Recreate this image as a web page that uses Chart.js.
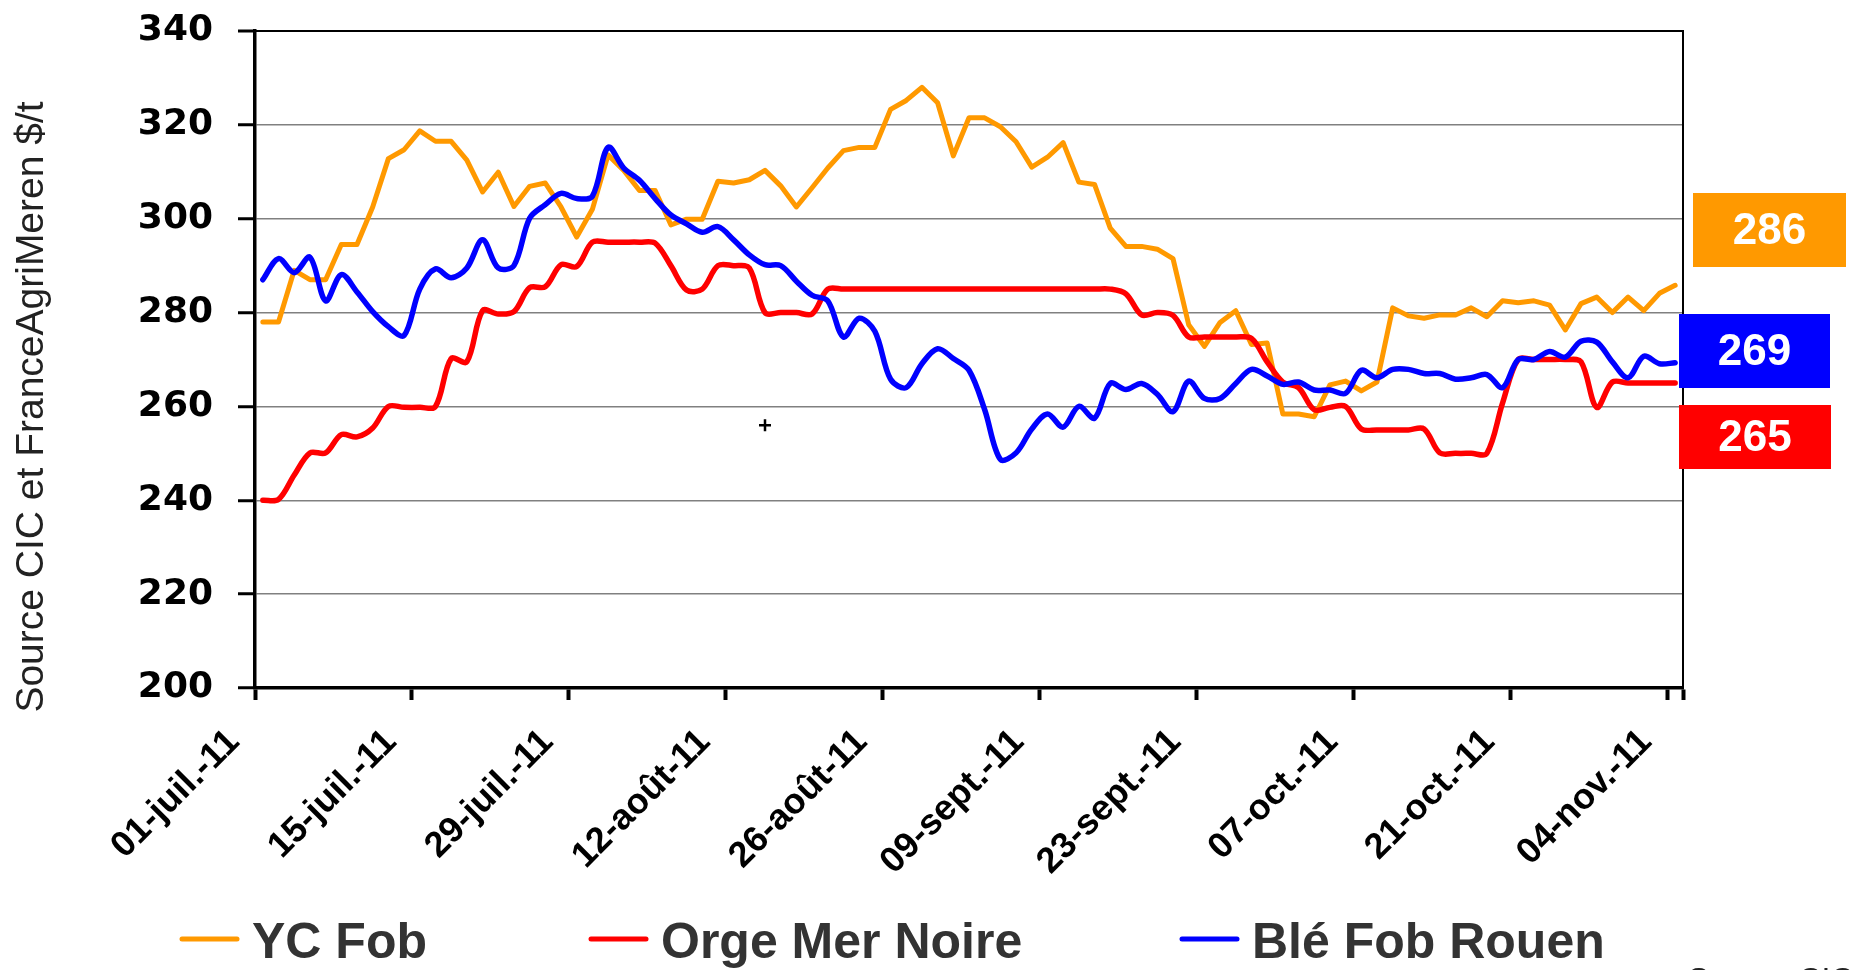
<!DOCTYPE html>
<html lang="fr">
<head>
<meta charset="utf-8">
<title>Prix YC Fob / Orge Mer Noire / Blé Fob Rouen</title>
<script src="https://cdn.jsdelivr.net/npm/chart.js@4.4.1/dist/chart.umd.min.js"></script>
<style>
    html, body { margin: 0; padding: 0; background: #ffffff; }
    #wrap { width: 1854px; height: 970px; position: relative; }
</style>
</head>
<body>
<div id="wrap"><canvas id="prixChart" width="1854" height="970"></canvas></div>
<script>
// étiquettes visibles de l'axe des dates (une toutes les 10 séances)
const tickLabels = ['01-juil.-11', '15-juil.-11', '29-juil.-11', '12-août-11', '26-août-11',
    '09-sept.-11', '23-sept.-11', '07-oct.-11', '21-oct.-11', '04-nov.-11'];
const nbSeances = 91;

// séries en $/t (jours ouvrés du 01-juil au 04-nov)
const ycFob = [
    278, 278, 289, 287, 287, 294.5, 294.5, 302.5, 312.8, 314.7,
    318.7, 316.5, 316.5, 312.5, 305.7, 309.9, 302.6, 306.9, 307.6, 302.5,
    296.1, 302, 313.6, 310.3, 306, 306, 298.7, 299.9, 299.9, 308,
    307.6, 308.3, 310.3, 307, 302.5, 306.6, 310.8, 314.5, 315.2, 315.2,
    323.3, 325.2, 328, 324.7, 313.4, 321.5, 321.5, 319.6, 316.4, 311,
    313.1, 316.2, 307.8, 307.3, 298, 294.1, 294.1, 293.5, 291.5, 277.4,
    272.8, 277.9, 280.4, 273.2, 273.5, 258.4, 258.4, 257.8, 264.6, 265.4,
    263.3, 265.2, 281, 279.3, 278.8, 279.5, 279.5, 281, 279.1, 282.5,
    282.1, 282.5, 281.6, 276.3, 281.9, 283.3, 280, 283.3, 280.4, 284.1,
    285.8
];
const orgeMerNoire = [
    240, 240.2, 245.4, 250.1, 250.1, 254, 253.5, 255.4, 260, 259.8,
    259.8, 260, 270.2, 269.5, 280.4, 279.7, 280.2, 285.3, 285.5, 290.2,
    289.8, 295, 295, 295, 295, 294.8, 290, 284.8, 285, 290,
    290, 289.5, 280, 280, 280, 279.7, 285, 285, 285, 285,
    285, 285, 285, 285, 285, 285, 285, 285, 285, 285,
    285, 285, 285, 285, 285, 284, 279.5, 280, 279.4, 274.8,
    274.8, 274.8, 274.8, 274.5, 269.5, 265.2, 264, 259.3, 259.8, 260,
    255.2, 255, 255, 255, 255.2, 250.1, 250, 250, 250, 260.7,
    270, 270, 270, 270, 269.5, 259.8, 265.2, 265, 265, 265,
    265
];
const bleFobRouen = [
    287, 291.5, 288.5, 291.8, 282.5, 288.1, 284.4, 280.2, 277, 275.1,
    285, 289.3, 287.4, 289.5, 295.5, 289.5, 290, 300.1, 303, 305.4,
    304.3, 304.8, 315.2, 310.8, 308.2, 304.3, 300.8, 298.9, 297.1, 298.3,
    295.5, 292.3, 290.2, 290, 286.7, 283.7, 282.5, 274.8, 278.8, 276,
    265.8, 264, 269.1, 272.3, 270.2, 267.7, 259.3, 248.7, 250.1, 255.2,
    258.4, 255.6, 260, 257.5, 264.9, 263.6, 264.9, 262.6, 258.9, 265.4,
    261.7, 261.7, 264.9, 267.9, 266.5, 264.7, 265.2, 263.5, 263.5, 262.8,
    267.7, 266.1, 267.9, 267.9, 267, 267, 265.8, 266.1, 266.8, 264,
    270, 270, 271.7, 270.5, 273.9, 273.7, 269.5, 266.1, 270.7, 269.1,
    269.3
];

const seriesNames = ['YC Fob', 'Orge Mer Noire', 'Blé Fob Rouen'];
const seriesColors = ['#FF9900', '#FF0000', '#0000FF'];

// catégories : une par séance, libellé seulement toutes les 10
const categories = [];
for (let i = 0; i < nbSeances; i++) {
    categories.push(i % 10 === 0 ? tickLabels[i / 10] : '');
}

// cadre, titre d'axe, légende et étiquettes de dernière valeur
const decorPlugin = {
    id: 'decor',
    beforeDatasetsDraw(chart) {
        const { ctx, chartArea: a } = chart;
        ctx.save();
        ctx.strokeStyle = '#000';
        ctx.lineWidth = 2;
        ctx.beginPath();
        ctx.moveTo(a.left, a.top);
        ctx.lineTo(a.right, a.top);
        ctx.lineTo(a.right, a.bottom);
        ctx.stroke();
        ctx.restore();
    },
    afterDraw(chart) {
        const ctx = chart.ctx;
        ctx.save();

        // titre vertical
        ctx.translate(32, 407);
        ctx.rotate(-Math.PI / 2);
        ctx.fillStyle = '#222';
        ctx.font = '39px "Liberation Sans", Arial, sans-serif';
        ctx.textAlign = 'center';
        ctx.textBaseline = 'middle';
        ctx.fillText('Source CIC et FranceAgriMeren $/t', 0, 0);
        ctx.setTransform(1, 0, 0, 1, 0, 0);

        // légende
        const legendX = [180, 589, 1180];
        ctx.font = 'bold 50px "Liberation Sans", Arial, sans-serif';
        ctx.textAlign = 'left';
        ctx.textBaseline = 'alphabetic';
        seriesNames.forEach((name, i) => {
            ctx.strokeStyle = seriesColors[i];
            ctx.lineWidth = 5;
            ctx.lineCap = 'round';
            ctx.beginPath();
            ctx.moveTo(legendX[i] + 2, 939);
            ctx.lineTo(legendX[i] + 57, 939);
            ctx.stroke();
            ctx.fillStyle = '#333';
            ctx.fillText(name, legendX[i] + 72, 958);
        });

        // étiquettes des dernières valeurs
        const badges = [[1693, 193, 153, 74], [1679, 405, 152, 64], [1679, 314, 151, 74]];
        const series = [ycFob, orgeMerNoire, bleFobRouen];
        ctx.font = 'bold 44px "Liberation Sans", Arial, sans-serif';
        ctx.textAlign = 'center';
        ctx.textBaseline = 'middle';
        badges.forEach((b, i) => {
            ctx.fillStyle = seriesColors[i];
            ctx.fillRect(b[0], b[1], b[2], b[3]);
            ctx.fillStyle = '#fff';
            const last = series[i][series[i].length - 1];
            ctx.fillText(String(Math.round(last)), b[0] + b[2] / 2, b[1] + b[3] / 2 + 2);
        });

        // petite croix parasite du graphique d'origine
        const px = chart.scales.x.getPixelForValue(32);
        const py = chart.scales.y.getPixelForValue(256);
        ctx.strokeStyle = '#000';
        ctx.lineWidth = 2.5;
        ctx.lineCap = 'butt';
        ctx.beginPath();
        ctx.moveTo(px - 6, py); ctx.lineTo(px + 6, py);
        ctx.moveTo(px, py - 6); ctx.lineTo(px, py + 6);
        ctx.stroke();

        // source coupée en bas à droite
        ctx.fillStyle = '#222';
        ctx.font = '32px "Liberation Sans", Arial, sans-serif';
        ctx.textAlign = 'left';
        ctx.textBaseline = 'alphabetic';
        ctx.fillText('Source CIC', 1688, 990);
        ctx.restore();
    }
};

window.initPrixChart = function() {
    const el = document.getElementById('prixChart');
    if (!el) {
        console.error("canvas prixChart introuvable");
        return;
    }
    const series = [ycFob, orgeMerNoire, bleFobRouen];
    const datasets = series.map((data, i) => ({
        label: seriesNames[i],
        data: data,
        borderColor: seriesColors[i],
        backgroundColor: seriesColors[i],
        borderWidth: i === 0 ? 5 : 5.5,
        tension: i === 0 ? 0 : 0.33,
        pointRadius: 0,
        borderCapStyle: 'round',
        borderJoinStyle: 'round',
        fill: false,
        order: 3 - i
    }));

    try {
        new Chart(el.getContext('2d'), {
            type: 'line',
            data: { labels: categories, datasets: datasets },
            options: {
                responsive: false,
                animation: false,
                layout: { padding: { top: 31, right: 171, bottom: 82, left: 0 } },
                plugins: {
                    legend: { display: false },
                    tooltip: { enabled: false },
                    title: { display: false }
                },
                scales: {
                    x: {
                        type: 'category',
                        offset: true,
                        afterFit: (scale) => { scale.height = 200; },
                        border: { display: true, color: '#000', width: 3.5 },
                        grid: {
                            offset: true,
                            drawOnChartArea: false,
                            tickLength: 12,
                            tickWidth: 4,
                            tickColor: (c) => (c.index === undefined || c.index % 10 === 0) ? '#000' : 'rgba(0,0,0,0)'
                        },
                        ticks: {
                            autoSkip: false,
                            maxRotation: 45,
                            minRotation: 45,
                            padding: 21,
                            labelOffset: -29,
                            color: '#000',
                            font: { family: '"Liberation Sans", Arial, sans-serif', size: 36, weight: 'bold' }
                        }
                    },
                    y: {
                        min: 200,
                        max: 340,
                        afterFit: (scale) => { scale.width = 255; },
                        border: { display: true, color: '#000', width: 3.5 },
                        grid: {
                            color: (c) => c.tick && c.tick.value === 340 ? '#000' : '#808080',
                            lineWidth: (c) => c.tick && c.tick.value === 340 ? 2 : 1.5,
                            tickColor: '#000',
                            tickWidth: 3,
                            tickLength: 17
                        },
                        ticks: {
                            stepSize: 20,
                            padding: 25,
                            color: '#000',
                            // lineHeight réduit : évite une marge haute parasite
                            font: { family: '"DejaVu Sans", sans-serif', size: 36, weight: 'bold', lineHeight: 0.2 }
                        }
                    }
                }
            },
            plugins: [decorPlugin]
        });
        console.log("graphique prêt");
    } catch (error) {
        console.error("échec du graphique :", error);
    }
};

window.initPrixChart();
</script>
</body>
</html>
